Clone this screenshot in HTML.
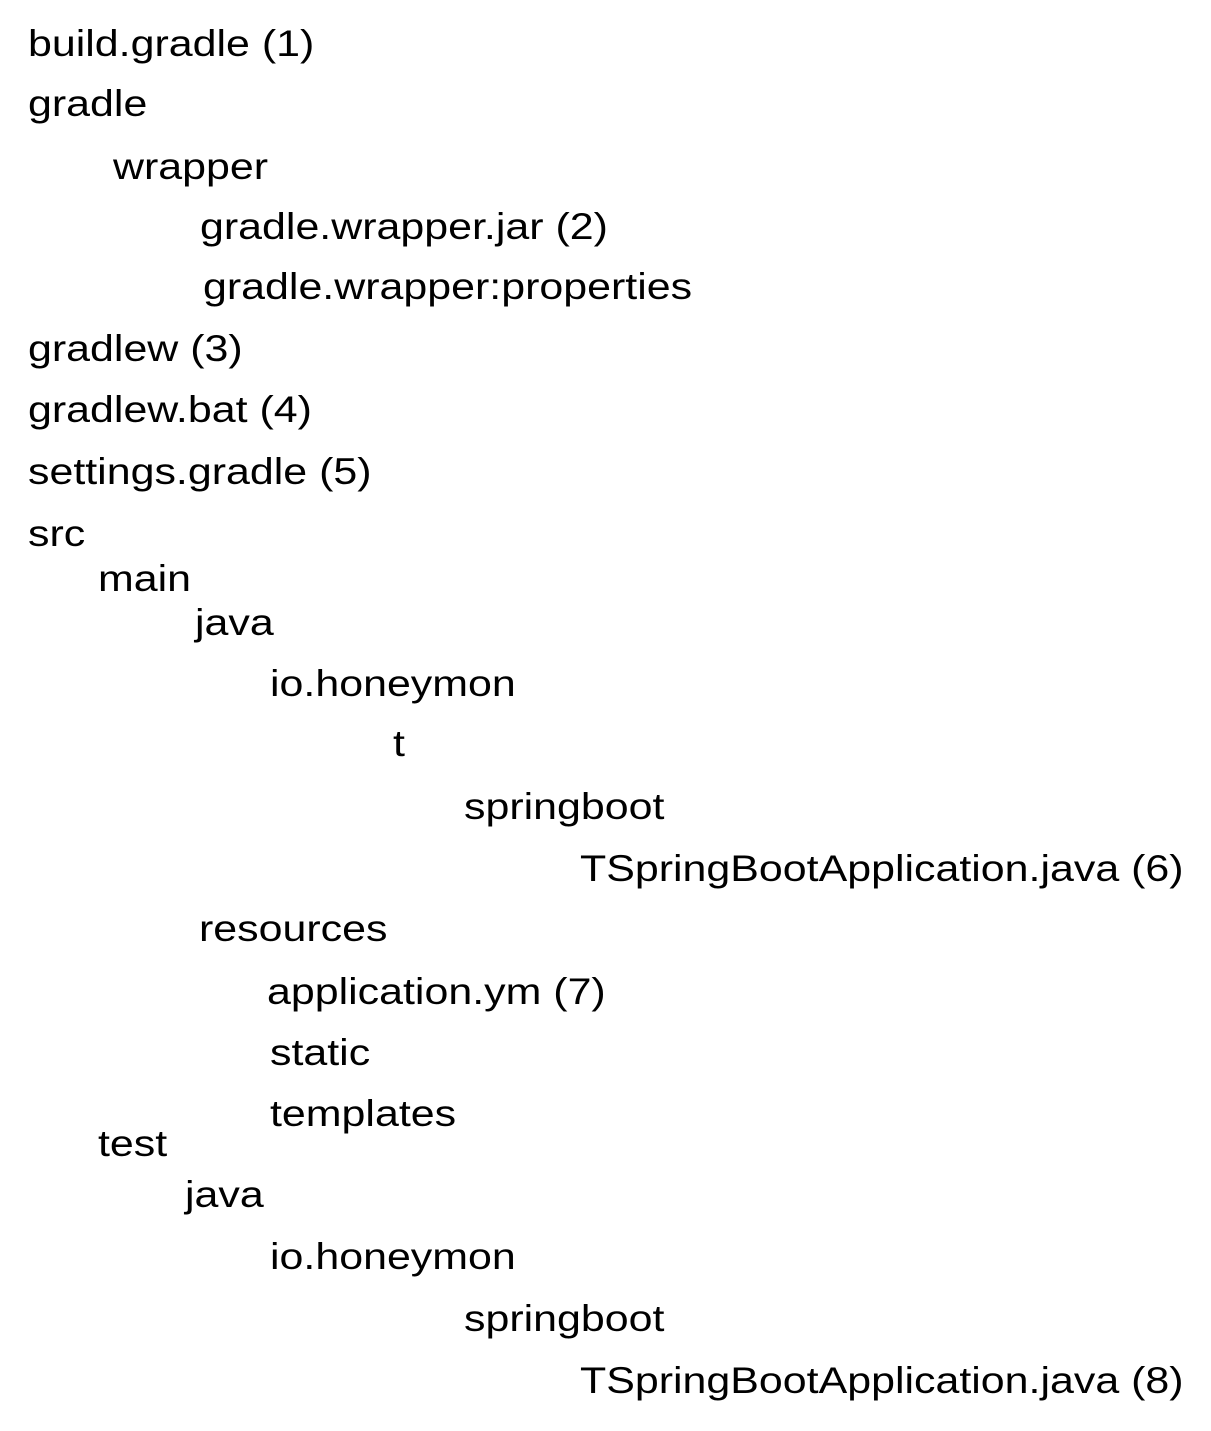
<!DOCTYPE html>
<html><head><meta charset="utf-8"><style>
html,body{margin:0;padding:0;background:#fff;width:1211px;height:1431px;overflow:hidden}
div{position:absolute;font-family:"Liberation Sans","Noto Sans CJK KR",sans-serif;font-size:37px;line-height:1;color:#000;white-space:nowrap;transform:scaleX(1.16);transform-origin:0 0}
</style></head><body>
<div style="left:28px;top:25px">build.gradle (1)</div>
<div style="left:28px;top:85px">gradle</div>
<div style="left:113px;top:148px">wrapper</div>
<div style="left:200px;top:208px">gradle.wrapper.jar (2)</div>
<div style="left:203px;top:268px">gradle.wrapper:properties</div>
<div style="left:28px;top:330px">gradlew (3)</div>
<div style="left:28px;top:391px">gradlew.bat (4)</div>
<div style="left:28px;top:453px">settings.gradle (5)</div>
<div style="left:28px;top:515px">src</div>
<div style="left:98px;top:560px">main</div>
<div style="left:195px;top:604px">java</div>
<div style="left:270px;top:665px">io.honeymon</div>
<div style="left:393px;top:725px">t</div>
<div style="left:464px;top:788px">springboot</div>
<div style="left:580px;top:850px">TSpringBootApplication.java (6)</div>
<div style="left:199px;top:910px">resources</div>
<div style="left:267px;top:973px">application.ym (7)</div>
<div style="left:270px;top:1034px">static</div>
<div style="left:270px;top:1095px">templates</div>
<div style="left:98px;top:1125px">test</div>
<div style="left:185px;top:1176px">java</div>
<div style="left:270px;top:1238px">io.honeymon</div>
<div style="left:464px;top:1300px">springboot</div>
<div style="left:580px;top:1362px">TSpringBootApplication.java (8)</div>
</body></html>
